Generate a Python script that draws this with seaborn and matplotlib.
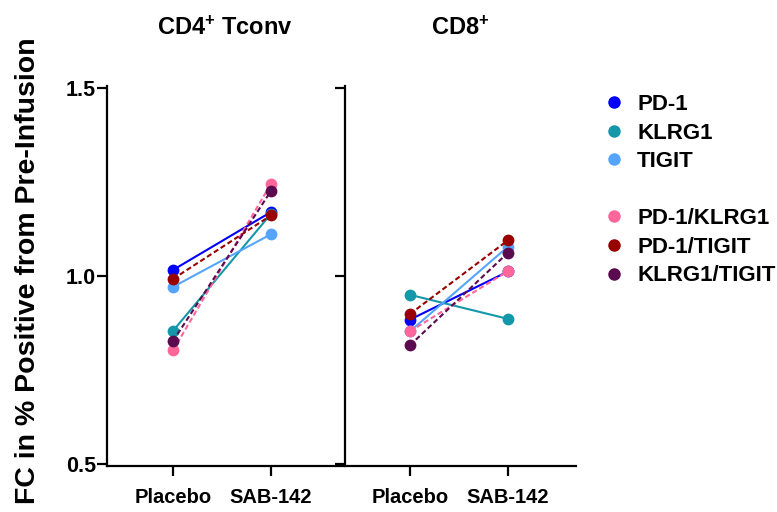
import pandas as pd
import matplotlib.pyplot as plt
import matplotlib.transforms as mtransforms
import seaborn as sns
from matplotlib.lines import Line2D

# Data
groups = ['Placebo', 'SAB-142']
panels = ['CD4$^{+}$ Tconv', 'CD8$^{+}$']
markers = ['PD-1', 'KLRG1', 'TIGIT', 'PD-1/KLRG1', 'PD-1/TIGIT', 'KLRG1/TIGIT']

cd4_placebo = [1.016, 0.854, 0.971, 0.802, 0.992, 0.827]
cd4_sab142 = [1.170, 1.165, 1.111, 1.245, 1.161, 1.226]
cd8_placebo = [0.884, 0.950, 0.853, 0.853, 0.899, 0.816]
cd8_sab142 = [1.012, 0.886, 1.078, 1.013, 1.095, 1.062]

colors = ['#0000FF', '#1497A8', '#55A5FF', '#FF6699', '#990000', '#5C0A50']
dashed = ['PD-1/KLRG1', 'PD-1/TIGIT', 'KLRG1/TIGIT']

sns.set_style('ticks')
plt.rcParams['font.family'] = ['Liberation Sans', 'DejaVu Sans']
plt.rcParams['font.weight'] = 'bold'
plt.rcParams['mathtext.fontset'] = 'custom'
plt.rcParams['mathtext.rm'] = 'Liberation Sans:bold'
plt.rcParams['mathtext.default'] = 'rm'
# plain black text like the original
for key in ['text.color', 'axes.labelcolor', 'xtick.color', 'ytick.color']:
    plt.rcParams[key] = 'black'


def build_frame(placebo, sab):
    rows = []
    for i, m in enumerate(markers):
        rows.append({'marker': m, 'pos': 0, 'fc': placebo[i]})
        rows.append({'marker': m, 'pos': 1, 'fc': sab[i]})
    return pd.DataFrame(rows)


palette = dict(zip(markers, colors))
dash_map = {m: ((2.5, 1.4) if m in dashed else '') for m in markers}
mark_map = {m: 'o' for m in markers}

fig = plt.figure(figsize=(7.77, 5.12), dpi=100)
ax1 = fig.add_axes([107 / 777, 1 - 466 / 512, 236 / 777, 380 / 512])
ax2 = fig.add_axes([345 / 777, 1 - 466 / 512, 231 / 777, 380 / 512])

data_sets = [(cd4_placebo, cd4_sab142), (cd8_placebo, cd8_sab142)]
for ax, title, (pl, sb) in zip([ax1, ax2], panels, data_sets):
    df = build_frame(pl, sb)
    sns.lineplot(data=df, x='pos', y='fc', hue='marker', style='marker',
                 palette=palette, dashes=dash_map, markers=mark_map,
                 markersize=8.5, markeredgewidth=0, linewidth=1.5,
                 legend=False, ax=ax)
    ax.set_ylim(0.495, 1.505)
    ax.set_yticks([0.5, 1.0, 1.5])
    ax.set_xticks([0, 1])
    ax.set_xticklabels(groups, fontsize=14.5, fontweight='bold')
    # the Placebo label sits a little left of its tick in the original
    lab = ax.get_xticklabels()[0]
    lab.set_transform(lab.get_transform() +
                      mtransforms.ScaledTranslation(-6 / 100, 0, fig.dpi_scale_trans))
    ax.set_xlabel('')
    ax.set_ylabel('')
    ax.set_title(title, fontsize=17, fontweight='bold', pad=37, color='black')
    for s in ['top', 'right']:
        ax.spines[s].set_visible(False)
    for s in ['left', 'bottom']:
        ax.spines[s].set_linewidth(1.6)
        ax.spines[s].set_color('black')
    ax.tick_params(axis='both', width=1.6, length=7, color='black', labelcolor='black')
    ax.tick_params(axis='x', pad=9)
    ax.tick_params(axis='y', pad=1)

ax1.set_xlim(-0.673, 1.735)
ax2.set_xlim(-0.663, 1.694)
ax1.set_yticklabels(['0.5', '1.0', '1.5'], fontsize=15.5, fontweight='bold')
ax2.set_yticklabels([])
ax1.set_ylabel('FC in % Positive from Pre-Infusion', fontsize=20.5,
               fontweight='bold', labelpad=17.5, color='black')
ax1.yaxis.label.set_y(0.514)

handles = []
labels = []
for i, m in enumerate(markers):
    if i == 3:
        handles.append(Line2D([], [], linestyle='', marker=''))
        labels.append(' ')
    handles.append(Line2D([], [], linestyle='', marker='o', markersize=9,
                          markeredgewidth=0, color=colors[i]))
    labels.append(m)

fig.legend(handles, labels, loc='upper left', bbox_to_anchor=(583 / 777, 1 - 74 / 512),
           frameon=False, handlelength=1.0, handletextpad=0.54, labelspacing=0.34,
           labelcolor='black', prop={'weight': 'bold', 'size': 16})

fig.savefig('out.png', dpi=100)
